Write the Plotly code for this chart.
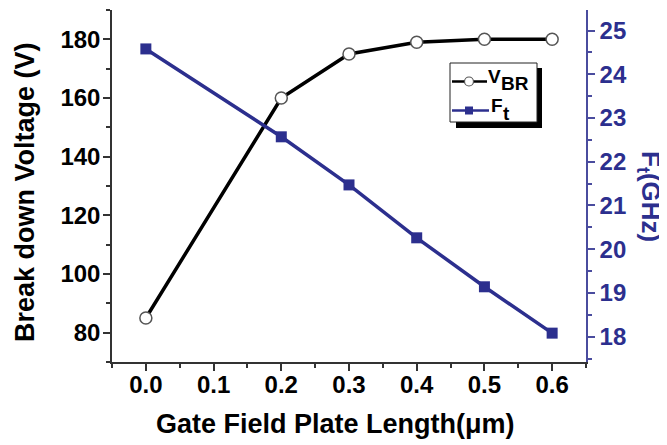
import plotly.graph_objects as go

# ---- data ----
gate_fp_length = [0.0, 0.2, 0.3, 0.4, 0.5, 0.6]
v_br = [85, 160, 175, 179, 180, 180]
f_t = [24.58, 22.57, 21.47, 20.26, 19.14, 18.08]

x_ticks = [0.0, 0.1, 0.2, 0.3, 0.4, 0.5, 0.6]
x_tick_labels = ["0.0", "0.1", "0.2", "0.3", "0.4", "0.5", "0.6"]
y_ticks = [80, 100, 120, 140, 160, 180]
y2_ticks = [18, 19, 20, 21, 22, 23, 24, 25]

NAVY = "#2C2F8E"
FONT = "Liberation Sans, Arial, sans-serif"

# screen geometry of the plot area (page has an 8px body margin)
OFF = 8
W, H = 667, 445
SL, ST, SR, SB = 112, 10, 586, 362       # plot area in screen px
PW, PH = SR - SL, SB - ST
L, T = SL - OFF, ST - OFF
R, B = W - L - PW, H - T - PH


def px_x(p):
    return (p - SL) / PW


def px_y(p):
    return (SB - p) / PH


fig = go.Figure()

fig.add_trace(go.Scatter(
    x=gate_fp_length, y=v_br, name="V<sub>BR</sub>", mode="lines+markers",
    line=dict(color="black", width=3.5),
    marker=dict(symbol="circle", size=12, color="white",
                line=dict(color="#555555", width=1.5)),
))
fig.add_trace(go.Scatter(
    x=gate_fp_length, y=f_t, name="F<sub>t</sub>", mode="lines+markers",
    yaxis="y2",
    line=dict(color=NAVY, width=3.5),
    marker=dict(symbol="square", size=11, color=NAVY),
))

tickfont = dict(family=FONT, size=24, color="black", weight="bold")

fig.update_layout(
    template="none",
    width=W, height=H,
    margin=dict(l=L, r=R, t=T, b=B, autoexpand=False),
    paper_bgcolor="white", plot_bgcolor="white",
    font=dict(family=FONT),
    showlegend=False,
    xaxis=dict(
        range=[-0.05, 0.65], tickvals=x_ticks, ticktext=x_tick_labels,
        ticks="outside", ticklen=7, tickwidth=1.5, tickcolor="#333333",
        minor=dict(dtick=0.05, tick0=0, ticks="outside", ticklen=4, tickcolor="#333333"),
        showline=True, linecolor="#333333", linewidth=1.5, automargin=False,
        showgrid=False, zeroline=False, tickfont=tickfont, ticklabelstandoff=-7,
    ),
    xaxis2=dict(
        range=[-0.05, 0.65], overlaying="x", side="top", anchor="y",
        tickvals=x_ticks, showticklabels=False, automargin=False,
        ticks="inside", ticklen=7, tickwidth=1.5, tickcolor="#333333",
        minor=dict(dtick=0.05, tick0=0, ticks="inside", ticklen=4, tickcolor="#333333"),
        showline=True, linecolor="#333333", linewidth=1.5,
        showgrid=False, zeroline=False,
    ),
    yaxis=dict(
        range=[70, 190], tickvals=y_ticks, automargin=False,
        ticks="outside", ticklen=7, tickwidth=1.5, tickcolor="#333333",
        minor=dict(dtick=10, tick0=0, ticks="outside", ticklen=4, tickcolor="#333333"),
        showline=True, linecolor="#333333", linewidth=1.5,
        showgrid=False, zeroline=False, tickfont=tickfont, ticklabelstandoff=-2,
    ),
    yaxis2=dict(
        range=[17.42, 25.47], tickvals=y2_ticks, overlaying="y", side="right",
        anchor="x", automargin=False,
        ticks="outside", ticklen=7, tickwidth=1.5, tickcolor="#4A4C9E",
        minor=dict(dtick=0.5, tick0=0, ticks="outside", ticklen=4, tickcolor="#4A4C9E"),
        showline=True, linecolor="#4A4C9E", linewidth=1.5,
        showgrid=False, zeroline=False,
        tickfont=dict(family=FONT, size=24, color=NAVY, weight="bold"),
    ),
)


def rect(x0, y0, x1, y1, **kw):
    fig.add_shape(type="rect", xref="paper", yref="paper",
                  x0=px_x(x0), x1=px_x(x1), y0=px_y(y1), y1=px_y(y0),
                  layer="above", **kw)


def seg(x0, y0, x1, y1, color, width):
    fig.add_shape(type="line", xref="paper", yref="paper",
                  x0=px_x(x0), x1=px_x(x1), y0=px_y(y0), y1=px_y(y1),
                  line=dict(color=color, width=width), layer="above")


# ---- hand-drawn legend box (with drop shadow) ----
rect(456, 68, 542, 128, fillcolor="black", line=dict(width=0))
rect(450, 63, 537, 122, fillcolor="white", line=dict(color="#222222", width=1))
# V_BR entry
seg(452, 81.5, 487, 81.5, "black", 2.5)
fig.add_shape(type="circle", xref="paper", yref="paper",
              x0=px_x(464.5), x1=px_x(473.5), y0=px_y(86), y1=px_y(77),
              fillcolor="white", line=dict(color="#555555", width=1.2), layer="above")
# F_t entry
seg(452, 110.5, 489, 110.5, NAVY, 2.5)
rect(465, 106.5, 473, 114.5, fillcolor=NAVY, line=dict(width=0))

legfont = dict(family=FONT, size=19, color="black", weight="bold")
for txt, xl, yc in [("V", 487, 77), ("BR", 499.5, 83), ("F", 490, 105), ("t", 501.5, 113)]:
    fig.add_annotation(text=txt, xref="paper", yref="paper", x=px_x(xl), y=px_y(yc),
                       xanchor="left", yanchor="middle", showarrow=False,
                       font=legfont, borderpad=0)

# ---- axis titles ----
titlefont = dict(family=FONT, size=27, color="black", weight="bold")
fig.add_annotation(text="Break down Voltage (V)", xref="paper", yref="paper",
                   x=px_x(25), y=px_y(192), textangle=-90, showarrow=False,
                   xanchor="center", yanchor="middle", font=titlefont)
fig.add_annotation(text="Gate Field Plate Length(\u03bcm)", xref="paper", yref="paper",
                   x=px_x(335), y=px_y(424), showarrow=False,
                   xanchor="center", yanchor="middle", font=titlefont)
fig.add_annotation(text="F<sub>t</sub>(GHz)", xref="paper", yref="paper",
                   x=px_x(649), y=px_y(196), textangle=90, showarrow=False,
                   xanchor="center", yanchor="middle",
                   font=dict(family=FONT, size=26, color=NAVY, weight="bold"))

fig.write_html("out.html")
